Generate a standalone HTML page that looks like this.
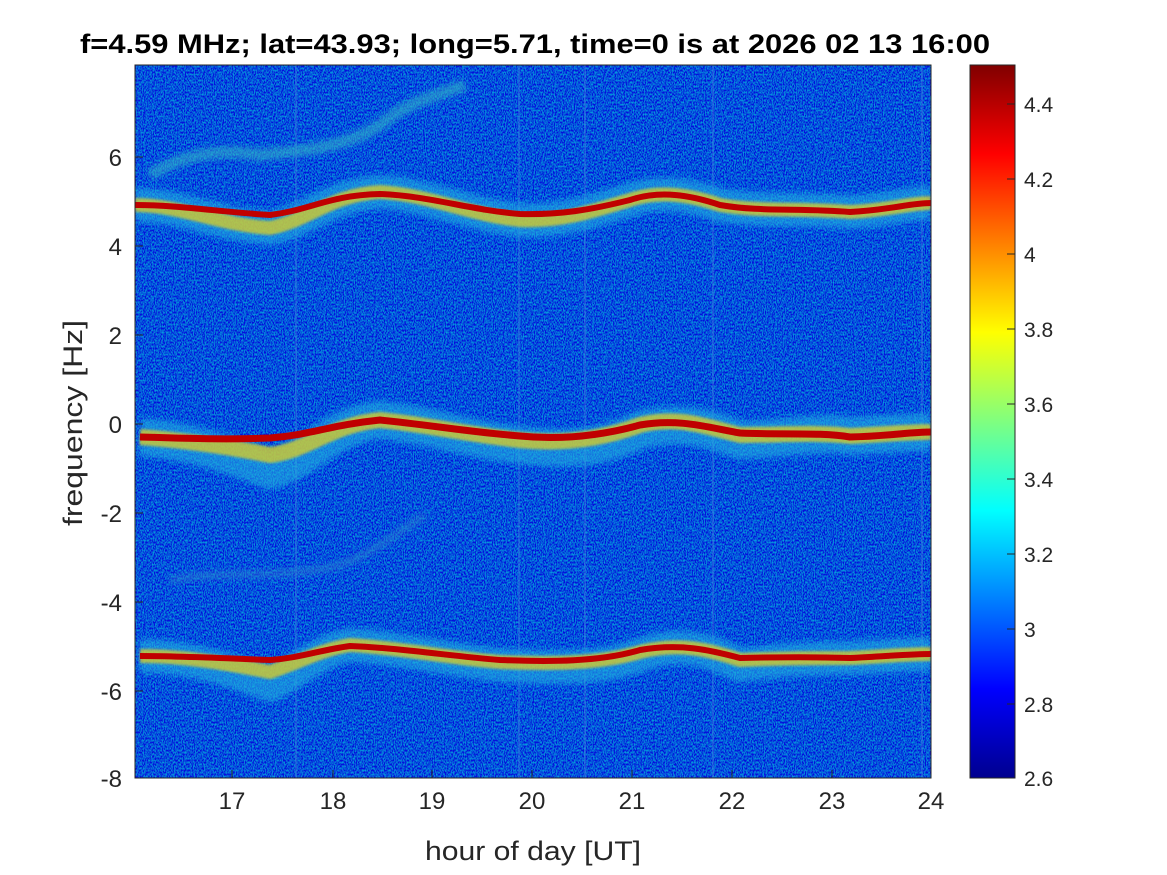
<!DOCTYPE html>
<html><head><meta charset="utf-8"><style>
html,body{margin:0;padding:0;background:#fff;}
svg{display:block;font-family:"Liberation Sans",Arial,sans-serif;}
</style></head><body>
<svg width="1167" height="875" viewBox="0 0 1167 875" xmlns="http://www.w3.org/2000/svg">
<defs>
<linearGradient id="jet" x1="0" y1="1" x2="0" y2="0">
<stop offset="0" stop-color="#00008f"/>
<stop offset="0.125" stop-color="#0000ff"/>
<stop offset="0.375" stop-color="#00ffff"/>
<stop offset="0.625" stop-color="#ffff00"/>
<stop offset="0.875" stop-color="#ff0000"/>
<stop offset="1" stop-color="#800000"/>
</linearGradient>
<filter id="noise" x="0" y="0" width="100%" height="100%">
<feTurbulence type="fractalNoise" baseFrequency="0.9 0.5" numOctaves="2" seed="3"/>
<feColorMatrix type="matrix" values="0 0 0 0 0  0 2.2 0 0 -0.9  0 0 0 0 1  0 0 0 0 0.6"/>
</filter>
<filter id="blur" filterUnits="userSpaceOnUse" x="0" y="0" width="1167" height="875"><feGaussianBlur stdDeviation="3"/></filter>
<filter id="blur1" filterUnits="userSpaceOnUse" x="0" y="0" width="1167" height="875"><feGaussianBlur stdDeviation="1.2"/></filter>
<clipPath id="pc"><rect x="135" y="65" width="796" height="713"/></clipPath>
</defs>
<rect x="135" y="65" width="796" height="713" fill="#0c28a8"/>
<rect x="135" y="65" width="796" height="713" filter="url(#noise)"/>
<g clip-path="url(#pc)">
<g stroke="#3a7ae0" stroke-width="2" opacity="0.45">
<line x1="519" y1="65" x2="519" y2="778"/><line x1="585" y1="65" x2="585" y2="778"/>
<line x1="713" y1="65" x2="713" y2="778"/><line x1="922" y1="65" x2="922" y2="778"/>
<line x1="296" y1="65" x2="296" y2="778"/>
</g>
<path d="M150,175 C190,150 230,150 260,155 C300,150 340,150 380,125 C410,100 440,95 465,85" stroke="#30b0c8" stroke-width="12" fill="none" opacity="0.6" filter="url(#blur)"/>
<path d="M170,580 C220,570 280,580 340,565 C380,550 400,530 425,515" stroke="#2a80d0" stroke-width="8" fill="none" opacity="0.55" filter="url(#blur)"/>
<g fill="none" stroke-linejoin="round">
<path d="M135,205 C180,205 220,225 270,228 C310,220 330,195 380,192 C430,195 470,215 520,220 C560,222 590,212 630,200 C660,190 690,195 720,205 C760,212 800,208 850,212 C890,210 910,203 931,203" stroke="#20b0e0" stroke-width="34" opacity="0.6" filter="url(#blur)"/>
<path d="M135,205 C180,205 220,225 270,228 C310,220 330,195 380,192 C430,195 470,215 520,220 C560,222 590,212 630,200 C660,190 690,195 720,205 C760,212 800,208 850,212 C890,210 910,203 931,203" stroke="#e0d020" stroke-width="14" opacity="0.75" filter="url(#blur1)"/>
<path d="M135,205 C180,205 220,212 270,215 C310,210 330,195 380,194 C430,196 470,210 520,214 C560,215 590,210 630,200 C660,190 690,195 720,205 C760,212 800,208 850,212 C890,210 910,203 931,203" stroke="#c00000" stroke-width="6"/>

<path d="M140,437 C180,440 220,450 270,470 C310,460 330,425 380,420 C430,425 470,440 520,445 C560,450 600,450 640,430 C680,420 710,428 740,440 C780,440 820,430 850,436 C890,434 910,432 931,432" stroke="#20b0e0" stroke-width="38" opacity="0.6" filter="url(#blur)"/>
<path d="M140,437 C180,440 220,445 270,455 C310,450 330,425 380,420 C430,425 470,435 520,440 C560,444 600,440 640,425 C680,415 710,428 740,435 C780,435 820,432 850,436 C890,434 910,432 931,432" stroke="#e0d020" stroke-width="16" opacity="0.75" filter="url(#blur1)"/>
<path d="M140,437 C180,438 220,440 270,438 C310,435 330,425 380,420 C430,425 470,432 520,436 C560,440 600,436 640,425 C680,418 710,428 740,433 C780,435 820,432 850,437 C890,436 910,432 931,432" stroke="#c00000" stroke-width="7"/>

<path d="M140,656 C180,656 220,665 270,685 C300,670 320,650 350,645 C400,648 450,660 500,665 C550,668 600,670 640,655 C680,640 710,650 740,665 C780,660 820,658 850,658 C890,656 910,654 931,654" stroke="#20b0e0" stroke-width="34" opacity="0.6" filter="url(#blur)"/>
<path d="M140,656 C180,656 220,662 270,672 C300,662 320,650 350,645 C400,648 450,658 500,662 C550,664 600,664 640,652 C680,642 710,650 740,660 C780,658 820,658 850,658 C890,656 910,654 931,654" stroke="#e0d020" stroke-width="14" opacity="0.75" filter="url(#blur1)"/>
<path d="M140,656 C180,656 220,658 270,660 C300,658 320,650 350,646 C400,648 450,656 500,660 C550,662 600,662 640,650 C680,643 710,650 740,658 C780,657 820,657 850,658 C890,656 910,654 931,654" stroke="#c00000" stroke-width="6"/>
</g>
</g>
<rect x="135" y="65" width="796" height="713" fill="none" stroke="#262626" stroke-width="1"/>
<g stroke="#262626" stroke-width="1">
<line x1="232" y1="778" x2="232" y2="770"/><line x1="333" y1="778" x2="333" y2="770"/><line x1="432" y1="778" x2="432" y2="770"/><line x1="532" y1="778" x2="532" y2="770"/><line x1="632" y1="778" x2="632" y2="770"/><line x1="732" y1="778" x2="732" y2="770"/><line x1="832" y1="778" x2="832" y2="770"/>
<line x1="135" y1="157" x2="143" y2="157"/><line x1="135" y1="246" x2="143" y2="246"/><line x1="135" y1="335" x2="143" y2="335"/><line x1="135" y1="424" x2="143" y2="424"/><line x1="135" y1="513" x2="143" y2="513"/><line x1="135" y1="602" x2="143" y2="602"/><line x1="135" y1="691" x2="143" y2="691"/>
</g>
<g font-size="24" fill="#262626" text-anchor="middle">
<text x="232" y="809">17</text><text x="333" y="809">18</text><text x="432" y="809">19</text><text x="532" y="809">20</text><text x="632" y="809">21</text><text x="732" y="809">22</text><text x="832" y="809">23</text><text x="931" y="809">24</text>
</g>
<g font-size="24" fill="#262626" text-anchor="end">
<text x="122" y="166">6</text><text x="122" y="255">4</text><text x="122" y="344">2</text><text x="122" y="433">0</text><text x="122" y="522">-2</text><text x="122" y="611">-4</text><text x="122" y="700">-6</text><text x="122" y="787">-8</text>
</g>
<text x="425" y="860" font-size="27" fill="#262626" textLength="216" lengthAdjust="spacingAndGlyphs">hour of day [UT]</text>
<text transform="translate(82,526) rotate(-90)" font-size="27" fill="#262626" textLength="206" lengthAdjust="spacingAndGlyphs">frequency [Hz]</text>
<text x="80" y="53" font-size="27" font-weight="bold" fill="#000" textLength="910" lengthAdjust="spacingAndGlyphs">f=4.59 MHz;  lat=43.93; long=5.71, time=0 is at 2026 02 13 16:00</text>
<rect x="970" y="65" width="45" height="713" fill="url(#jet)" stroke="#262626" stroke-width="1"/>
<g stroke="#262626" stroke-width="1">
<line x1="1007" y1="104" x2="1015" y2="104"/><line x1="1007" y1="179" x2="1015" y2="179"/><line x1="1007" y1="254" x2="1015" y2="254"/><line x1="1007" y1="329" x2="1015" y2="329"/><line x1="1007" y1="404" x2="1015" y2="404"/><line x1="1007" y1="479" x2="1015" y2="479"/><line x1="1007" y1="554" x2="1015" y2="554"/><line x1="1007" y1="629" x2="1015" y2="629"/><line x1="1007" y1="704" x2="1015" y2="704"/>
</g>
<g font-size="21" fill="#262626">
<text x="1024" y="112">4.4</text><text x="1024" y="187">4.2</text><text x="1024" y="262">4</text><text x="1024" y="337">3.8</text><text x="1024" y="412">3.6</text><text x="1024" y="487">3.4</text><text x="1024" y="562">3.2</text><text x="1024" y="637">3</text><text x="1024" y="712">2.8</text><text x="1024" y="786">2.6</text>
</g>
</svg>
</body></html>
